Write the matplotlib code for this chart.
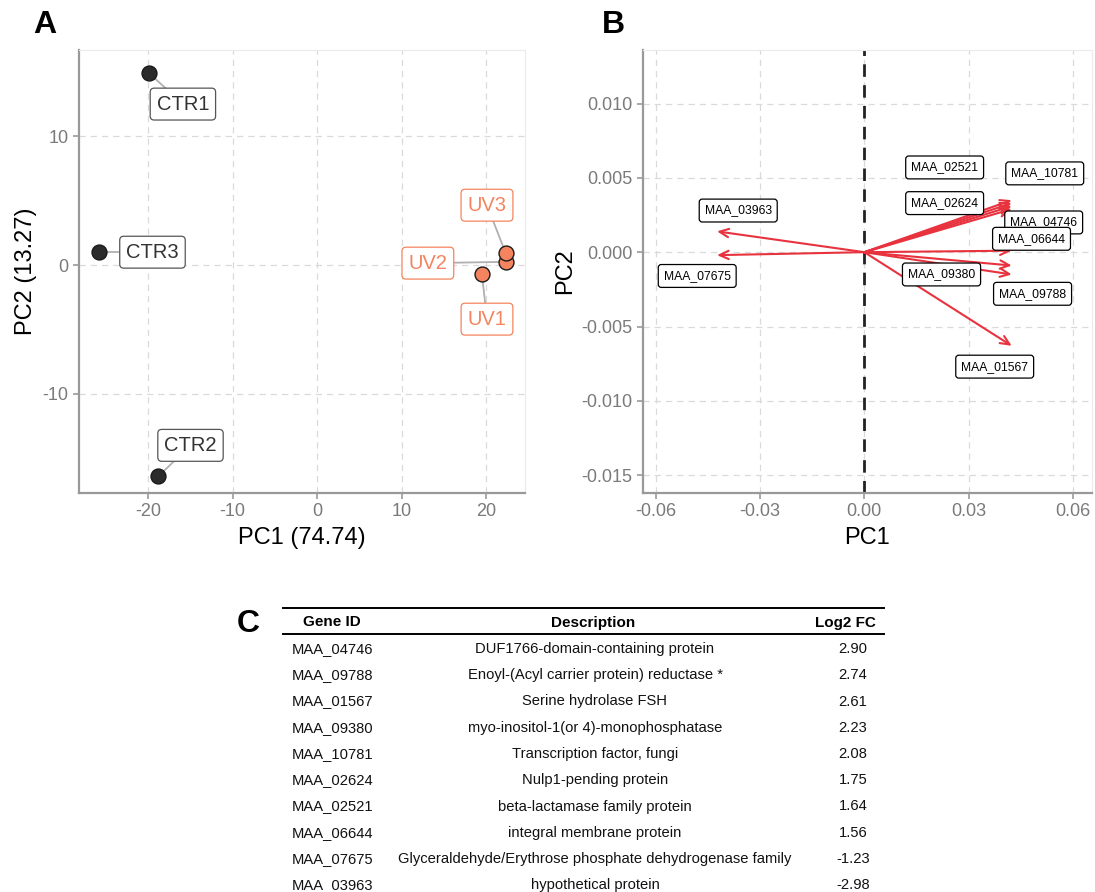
import matplotlib
matplotlib.use("Agg")
import matplotlib.pyplot as plt
from matplotlib.lines import Line2D
from matplotlib.patches import FancyArrowPatch

plt.rcParams['font.family'] = ['Liberation Sans', 'DejaVu Sans']
plt.rcParams['axes.unicode_minus'] = False

# ---- Panel A: sample scores ----
samples = ['CTR1', 'CTR2', 'CTR3', 'UV1', 'UV2', 'UV3']
groups = ['CTR', 'CTR', 'CTR', 'UV', 'UV', 'UV']
pc1_scores = [-19.9, -18.8, -25.8, 19.5, 22.4, 22.3]
pc2_scores = [14.9, -16.4, 1.0, -0.7, 0.25, 0.95]
pc1_var = 74.74
pc2_var = 13.27

# ---- Panel B: gene loadings ----
genes = ['MAA_03963', 'MAA_07675', 'MAA_10781', 'MAA_02521', 'MAA_02624',
         'MAA_04746', 'MAA_06644', 'MAA_09380', 'MAA_09788', 'MAA_01567']
load_pc1 = [-0.0424, -0.0424, 0.0424, 0.0424, 0.0424,
            0.0424, 0.0424, 0.0424, 0.0424, 0.0424]
load_pc2 = [0.0014, -0.0002, 0.0035, 0.0033, 0.0031,
            0.0029, 0.0001, -0.0009, -0.0015, -0.0063]

# ---- Panel C: table ----
table_ids = ['MAA_04746', 'MAA_09788', 'MAA_01567', 'MAA_09380', 'MAA_10781',
             'MAA_02624', 'MAA_02521', 'MAA_06644', 'MAA_07675', 'MAA_03963']
table_desc = ['DUF1766-domain-containing protein',
              'Enoyl-(Acyl carrier protein) reductase *',
              'Serine hydrolase FSH',
              'myo-inositol-1(or 4)-monophosphatase',
              'Transcription factor, fungi',
              'Nulp1-pending protein',
              'beta-lactamase family protein',
              'integral membrane protein',
              'Glyceraldehyde/Erythrose phosphate dehydrogenase family',
              'hypothetical protein']
table_fc = [2.90, 2.74, 2.61, 2.23, 2.08, 1.75, 1.64, 1.56, -1.23, -2.98]

W, H = 1095, 892
fig = plt.figure(figsize=(W / 100, H / 100), dpi=100)

def fx(px):
    return px / W

def fy(py):
    return 1 - py / H

GRID = dict(color='#dadada', linestyle=(0, (5, 4)), linewidth=0.9)
TICK_COLOR = '#7a7a7a'
SPINE_COLOR = '#999999'
UV_COLOR = '#F4845F'
CTR_COLOR = '#2b2b2b'
ARROW_COLOR = '#E8333F'


def style_axes(ax):
    for side in ('top', 'right'):
        ax.spines[side].set_color('#ebebeb')
        ax.spines[side].set_linewidth(0.8)
    for side in ('left', 'bottom'):
        ax.spines[side].set_color(SPINE_COLOR)
        ax.spines[side].set_linewidth(1.6)
    ax.tick_params(colors=SPINE_COLOR, labelcolor=TICK_COLOR, labelsize=13,
                   length=4, width=1.2)
    ax.grid(True, **GRID)
    ax.set_axisbelow(True)


# ================= Panel A =================
axA = fig.add_axes([fx(79), fy(493), fx(525 - 79), (493 - 50) / H])
style_axes(axA)
axA.set_xlim(-28.2, 24.6)
axA.set_ylim(-17.7, 16.7)
axA.set_xticks([-20, -10, 0, 10, 20])
axA.set_yticks([-10, 0, 10])
axA.set_xlabel(f'PC1 ({pc1_var})', fontsize=17, labelpad=5)
axA.set_ylabel(f'PC2 ({pc2_var})', fontsize=17, labelpad=4)

label_pos = {'CTR1': (-15.9, 12.5), 'CTR2': (-15.0, -14.0), 'CTR3': (-19.5, 1.0),
             'UV1': (20.1, -4.2), 'UV2': (13.1, 0.15), 'UV3': (20.1, 4.65)}

for name, grp, x, y in zip(samples, groups, pc1_scores, pc2_scores):
    lx, ly = label_pos[name]
    axA.plot([x, lx], [y, ly], color='#b0b0b0', lw=1.3, zorder=2)

for name, grp, x, y in zip(samples, groups, pc1_scores, pc2_scores):
    fc = CTR_COLOR if grp == 'CTR' else UV_COLOR
    axA.scatter([x], [y], s=115, c=fc, edgecolors='#1a1a1a', linewidths=1.0, zorder=4)

for name, grp in zip(samples, groups):
    lx, ly = label_pos[name]
    col = '#333333' if grp == 'CTR' else UV_COLOR
    ecol = '#555555' if grp == 'CTR' else UV_COLOR
    axA.text(lx, ly, name, ha='center', va='center', fontsize=14.5, color=col, zorder=5,
             bbox=dict(boxstyle='round,pad=0.32,rounding_size=0.2', fc='white', ec=ecol, lw=0.9))

fig.text(fx(45), fy(25), 'A', fontsize=23, fontweight='bold', ha='center', va='center')

# ================= Panel B =================
axB = fig.add_axes([fx(643), fy(493), fx(1092 - 643), (493 - 50) / H])
style_axes(axB)
axB.set_xlim(-0.0637, 0.0655)
axB.set_ylim(-0.0162, 0.0136)
axB.set_xticks([-0.06, -0.03, 0.0, 0.03, 0.06])
axB.set_xticklabels(['-0.06', '-0.03', '0.00', '0.03', '0.06'])
axB.set_yticks([-0.015, -0.010, -0.005, 0.0, 0.005, 0.010])
axB.set_yticklabels(['-0.015', '-0.010', '-0.005', '0.000', '0.005', '0.010'])
axB.set_xlabel('PC1', fontsize=17, labelpad=5)
axB.set_ylabel('PC2', fontsize=17, labelpad=4)
axB.axvline(0, color='#222222', lw=2.0, linestyle=(0, (4.5, 3)), zorder=2)

for x, y in zip(load_pc1, load_pc2):
    arr = FancyArrowPatch((0, 0), (x, y), arrowstyle='->,head_length=0.55,head_width=0.25',
                          color=ARROW_COLOR, lw=1.5, shrinkA=0, shrinkB=0, zorder=3,
                          mutation_scale=12)
    axB.add_patch(arr)

gene_label_pos = {'MAA_03963': (-0.0363, 0.0028), 'MAA_07675': (-0.0481, -0.0016),
                  'MAA_02521': (0.0231, 0.0057), 'MAA_10781': (0.0519, 0.0053),
                  'MAA_02624': (0.0231, 0.0033), 'MAA_04746': (0.0516, 0.0020),
                  'MAA_06644': (0.0481, 0.0009), 'MAA_09380': (0.0222, -0.0015),
                  'MAA_09788': (0.0484, -0.0028), 'MAA_01567': (0.0375, -0.0077)}
for g in genes:
    lx, ly = gene_label_pos[g]
    axB.text(lx, ly, g, ha='center', va='center', fontsize=8.7, color='black', zorder=5,
             bbox=dict(boxstyle='round,pad=0.45,rounding_size=0.25', fc='white', ec='black', lw=0.9))

fig.text(fx(613), fy(25), 'B', fontsize=23, fontweight='bold', ha='center', va='center')

# ================= Panel C =================
fig.text(fx(248), fy(624), 'C', fontsize=23, fontweight='bold', ha='center', va='center')

x0, x1 = fx(283), fx(884)
fig.add_artist(Line2D([x0, x1], [fy(608), fy(608)], color='black', lw=1.4))
fig.add_artist(Line2D([x0, x1], [fy(634), fy(634)], color='black', lw=1.4))

col_id, col_desc, col_fc = fx(292), fx(595), fx(853)
fig.text(fx(332), fy(621), 'Gene ID', fontsize=11, fontweight='bold', ha='center', va='center_baseline')
fig.text(fx(593), fy(621), 'Description', fontsize=11, fontweight='bold', ha='center', va='center_baseline')
fig.text(fx(845), fy(621), 'Log2 FC', fontsize=11, fontweight='bold', ha='center', va='center_baseline')

row_top, row_step = 647.5, 26.25
for i, (gid, desc, fc) in enumerate(zip(table_ids, table_desc, table_fc)):
    y = fy(row_top + i * row_step)
    fig.text(col_id, y, gid, fontsize=10.6, ha='left', va='center_baseline', color='#111111')
    fig.text(col_desc, y, desc, fontsize=10.6, ha='center', va='center_baseline', color='#111111')
    fig.text(col_fc, y, f'{fc:.2f}', fontsize=10.6, ha='center', va='center_baseline', color='#111111')

fig.savefig('out.png', dpi=100, facecolor='white')
